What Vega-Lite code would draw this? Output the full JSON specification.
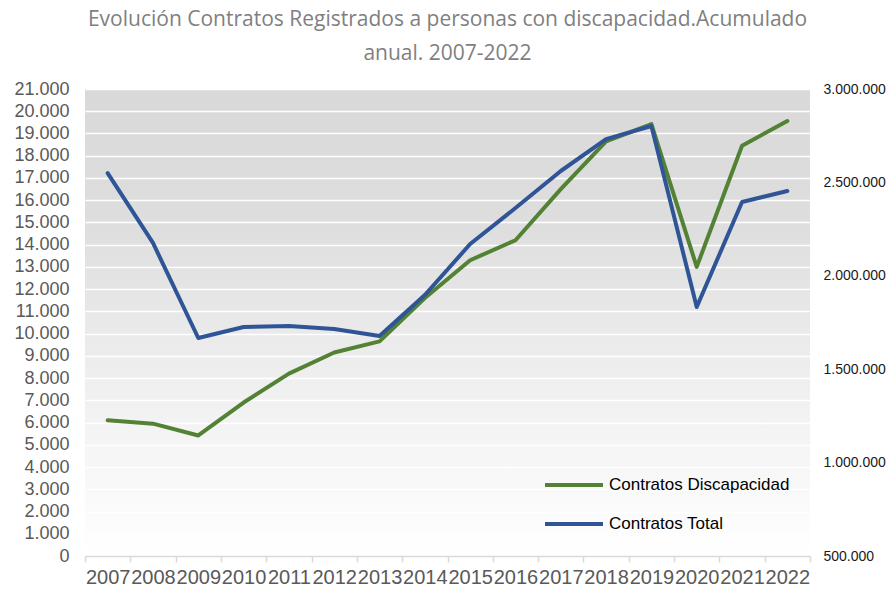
{
  "$schema": "https://vega.github.io/schema/vega-lite/v6.json",
  "autosize": {"type": "none"},
  "padding": {"left": 85, "top": 89, "right": 78, "bottom": 34},
  "width": 725,
  "height": 467,
  "background": "white",
  "config": {
    "locale": {"number": {"decimal": ",", "thousands": ".", "grouping": [3], "currency": ["", " €"]}},
    "view": {
      "stroke": null,
      "fill": {"gradient": "linear", "x1": 0, "y1": 0, "x2": 0, "y2": 1,
        "stops": [{"offset": 0, "color": "#d9d9d9"}, {"offset": 0.3, "color": "#dedede"}, {"offset": 0.6, "color": "#eeeeee"}, {"offset": 1, "color": "#ffffff"}]}
    },
    "font": "Liberation Sans"
  },
  "title": {
    "text": ["Evolución Contratos  Registrados a personas con discapacidad.Acumulado", "anual. 2007-2022"],
    "font": "Open Sans",
    "fontSize": 21,
    "fontWeight": "normal",
    "color": "#7f7f7f",
    "anchor": "middle",
    "lineHeight": 34,
    "offset": 16
  },
  "datasets": {
    "contratos": [
      {"year": "2007", "serie": "Contratos Discapacidad", "value": 6100},
      {"year": "2008", "serie": "Contratos Discapacidad", "value": 5950},
      {"year": "2009", "serie": "Contratos Discapacidad", "value": 5420},
      {"year": "2010", "serie": "Contratos Discapacidad", "value": 6900},
      {"year": "2011", "serie": "Contratos Discapacidad", "value": 8200},
      {"year": "2012", "serie": "Contratos Discapacidad", "value": 9150},
      {"year": "2013", "serie": "Contratos Discapacidad", "value": 9650},
      {"year": "2014", "serie": "Contratos Discapacidad", "value": 11600},
      {"year": "2015", "serie": "Contratos Discapacidad", "value": 13300},
      {"year": "2016", "serie": "Contratos Discapacidad", "value": 14200},
      {"year": "2017", "serie": "Contratos Discapacidad", "value": 16500},
      {"year": "2018", "serie": "Contratos Discapacidad", "value": 18650},
      {"year": "2019", "serie": "Contratos Discapacidad", "value": 19420},
      {"year": "2020", "serie": "Contratos Discapacidad", "value": 13000},
      {"year": "2021", "serie": "Contratos Discapacidad", "value": 18450},
      {"year": "2022", "serie": "Contratos Discapacidad", "value": 19560},
      {"year": "2007", "serie": "Contratos Total", "value": 2550000},
      {"year": "2008", "serie": "Contratos Total", "value": 2176000},
      {"year": "2009", "serie": "Contratos Total", "value": 1667000},
      {"year": "2010", "serie": "Contratos Total", "value": 1726000},
      {"year": "2011", "serie": "Contratos Total", "value": 1731000},
      {"year": "2012", "serie": "Contratos Total", "value": 1715000},
      {"year": "2013", "serie": "Contratos Total", "value": 1678000},
      {"year": "2014", "serie": "Contratos Total", "value": 1897000},
      {"year": "2015", "serie": "Contratos Total", "value": 2170000},
      {"year": "2016", "serie": "Contratos Total", "value": 2363000},
      {"year": "2017", "serie": "Contratos Total", "value": 2561000},
      {"year": "2018", "serie": "Contratos Total", "value": 2732000},
      {"year": "2019", "serie": "Contratos Total", "value": 2802000},
      {"year": "2020", "serie": "Contratos Total", "value": 1833000},
      {"year": "2021", "serie": "Contratos Total", "value": 2395000},
      {"year": "2022", "serie": "Contratos Total", "value": 2454000}
    ]
  },
  "data": {"name": "contratos"},
  "encoding": {
    "x": {
      "field": "year", "type": "ordinal", "bandPosition": 0.5,
      "scale": {"type": "band", "paddingInner": 0, "paddingOuter": 0},
      "axis": {
        "title": null, "labelAngle": 0, "labelFontSize": 20, "labelColor": "#595959",
        "labelPadding": 5, "domainColor": "#d9d9d9", "domainWidth": 1.5,
        "tickColor": "#d9d9d9", "tickWidth": 1.5, "tickSize": 6, "tickBand": "extent",
        "grid": false, "labelOverlap": false, "labelFlush": false
      }
    },
    "color": {
      "field": "serie", "type": "nominal",
      "scale": {"domain": ["Contratos Discapacidad", "Contratos Total"], "range": ["#548235", "#2f5597"]},
      "legend": {
        "title": null, "orient": "none", "legendX": 458, "legendY": 365,
        "symbolType": "stroke", "symbolSize": 3364, "symbolStrokeWidth": 4,
        "labelFontSize": 17, "labelColor": "#000000", "labelOffset": 4, "labelLimit": 400,
        "rowPadding": -18
      }
    }
  },
  "layer": [
    {
      "transform": [{"filter": "datum.serie === 'Contratos Discapacidad'"}],
      "mark": {"type": "line", "strokeWidth": 4, "strokeCap": "round", "strokeJoin": "round"},
      "encoding": {
        "y": {
          "field": "value", "type": "quantitative",
          "scale": {"domain": [0, 21000], "nice": false, "zero": true},
          "axis": {
            "title": null, "orient": "left", "values": [0,1000,2000,3000,4000,5000,6000,7000,8000,9000,10000,11000,12000,13000,14000,15000,16000,17000,18000,19000,20000,21000],
            "format": ",d", "labelFontSize": 18, "labelColor": "#595959", "labelPadding": 16,
            "domain": false, "ticks": false, "grid": true, "gridColor": "#ffffff", "gridWidth": 1.5
          }
        }
      }
    },
    {
      "transform": [{"filter": "datum.serie === 'Contratos Total'"}],
      "mark": {"type": "line", "strokeWidth": 4, "strokeCap": "round", "strokeJoin": "round"},
      "encoding": {
        "y": {
          "field": "value", "type": "quantitative",
          "scale": {"domain": [500000, 3000000], "nice": false, "zero": false},
          "axis": {
            "title": null, "orient": "right", "values": [500000, 1000000, 1500000, 2000000, 2500000, 3000000],
            "format": ",d", "labelFontSize": 14, "labelColor": "#1a1a1a", "labelPadding": 13,
            "domain": false, "ticks": false, "grid": false
          }
        }
      }
    }
  ],
  "resolve": {"scale": {"y": "independent"}, "axis": {"y": "independent"}}
}
